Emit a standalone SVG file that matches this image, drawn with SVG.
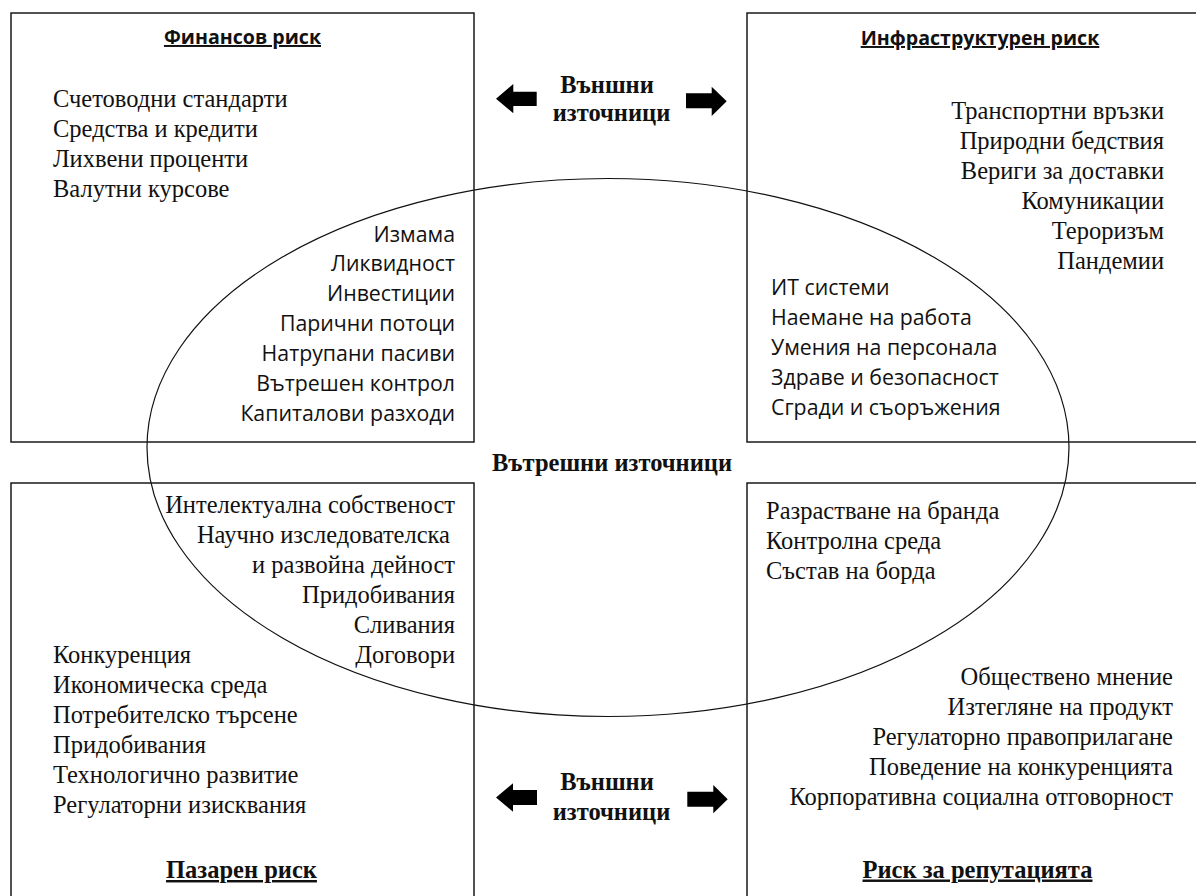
<svg xmlns="http://www.w3.org/2000/svg" width="1196" height="896" viewBox="0 0 1196 896">
<style>
.box{fill:none;stroke:#1a1a1a;stroke-width:1.5}
.ell{fill:none;stroke:#111;stroke-width:1.2}
.s{font-family:"Liberation Serif","Times New Roman",serif;font-size:24.5px;fill:#111}
.sb{font-family:"Liberation Serif","Times New Roman",serif;font-size:24.5px;font-weight:bold;fill:#111}
.c{font-family:"Open Sans","Noto Sans",sans-serif;font-size:21.3px;fill:#111}
.cb{font-family:"Open Sans","Noto Sans",sans-serif;font-size:19.6px;font-weight:bold;fill:#111}
.u{text-decoration:underline}
.e{text-anchor:end}
.m{text-anchor:middle}
.arr{fill:#000}
</style>
<rect width="1196" height="896" fill="#fff"/>

<g id="internal-sources">
<ellipse class="ell" cx="608" cy="447.5" rx="461" ry="269"/>
<text class="sb m" x="612" y="471">Вътрешни източници</text>
</g>

<g id="financial-risk">
<rect class="box" x="11" y="13" width="463" height="429"/>
<text class="cb m u" x="242.5" y="44">Финансов риск</text>
<text class="s" x="53" y="107.3">Счетоводни стандарти</text>
<text class="s" x="53" y="137.3">Средства и кредити</text>
<text class="s" x="53" y="167.3">Лихвени проценти</text>
<text class="s" x="53" y="197.3">Валутни курсове</text>
<text class="c e" x="455" y="242">Измама</text>
<text class="c e" x="455" y="271">Ликвидност</text>
<text class="c e" x="455" y="301">Инвестиции</text>
<text class="c e" x="455" y="331">Парични потоци</text>
<text class="c e" x="455" y="361">Натрупани пасиви</text>
<text class="c e" x="455" y="391">Вътрешен контрол</text>
<text class="c e" x="455" y="421">Капиталови разходи</text>
</g>

<g id="infrastructure-risk">
<rect class="box" x="747" y="13" width="466" height="429"/>
<text class="cb m u" x="980" y="45">Инфраструктурен риск</text>
<text class="s e" x="1164" y="118.5">Транспортни връзки</text>
<text class="s e" x="1164" y="148.5">Природни бедствия</text>
<text class="s e" x="1164" y="178.5">Вериги за доставки</text>
<text class="s e" x="1164" y="208.5">Комуникации</text>
<text class="s e" x="1164" y="238.5">Тероризъм</text>
<text class="s e" x="1164" y="268.5">Пандемии</text>
<text class="c" x="771" y="295">ИТ системи</text>
<text class="c" x="771" y="325">Наемане на работа</text>
<text class="c" x="771" y="355">Умения на персонала</text>
<text class="c" x="771" y="385">Здраве и безопасност</text>
<text class="c" x="771" y="415">Сгради и съоръжения</text>
</g>

<g id="market-risk">
<rect class="box" x="11" y="483" width="463" height="430"/>
<text class="s e" x="455" y="512.7">Интелектуална собственост</text>
<text class="s e" x="450" y="542.7">Научно изследователска</text>
<text class="s e" x="455" y="572.7">и развойна дейност</text>
<text class="s e" x="455" y="602.7">Придобивания</text>
<text class="s e" x="455" y="632.7">Сливания</text>
<text class="s e" x="455" y="662.7">Договори</text>
<text class="s" x="53" y="662.7">Конкуренция</text>
<text class="s" x="53" y="692.7">Икономическа среда</text>
<text class="s" x="53" y="722.7">Потребителско търсене</text>
<text class="s" x="53" y="752.7">Придобивания</text>
<text class="s" x="53" y="782.7">Технологично развитие</text>
<text class="s" x="53" y="812.7">Регулаторни изисквания</text>
<text class="sb m u" x="241.5" y="878">Пазарен риск</text>
</g>

<g id="reputation-risk">
<rect class="box" x="747" y="483" width="466" height="430"/>
<text class="s" x="766" y="519">Разрастване на бранда</text>
<text class="s" x="766" y="549">Контролна среда</text>
<text class="s" x="766" y="579">Състав на борда</text>
<text class="s e" x="1173" y="684.5">Обществено мнение</text>
<text class="s e" x="1173" y="714.5">Изтегляне на продукт</text>
<text class="s e" x="1173" y="744.5">Регулаторно правоприлагане</text>
<text class="s e" x="1173" y="774.5">Поведение на конкуренцията</text>
<text class="s e" x="1173" y="804.5">Корпоративна социална отговорност</text>
<text class="sb m u" x="977.5" y="877.5">Риск за репутацията</text>
</g>

<g id="external-sources-top">
<text class="sb m" x="607" y="93">Външни</text>
<text class="sb m" x="611.5" y="121">източници</text>
</g>
<g id="external-sources-bottom">
<text class="sb m" x="607" y="790">Външни</text>
<text class="sb m" x="611.5" y="819.5">източници</text>
</g>

<g id="connectors">
<polygon class="arr" points="496,98.7 513.3,84 513.3,91.7 536.7,91.7 536.7,106 513.3,106 513.3,113.3"/>
<polygon class="arr" points="726.7,101.3 711.7,86.7 711.7,93.3 686,93.3 686,108.3 711.7,108.3 711.7,116"/>
<polygon class="arr" points="496,797.5 513,783.3 513,790 537,790 537,805 513,805 513,811.7"/>
<polygon class="arr" points="727.7,799.2 713.3,785 713.3,791.7 687.3,791.7 687.3,806.7 713.3,806.7 713.3,813.3"/>
</g>
</svg>
